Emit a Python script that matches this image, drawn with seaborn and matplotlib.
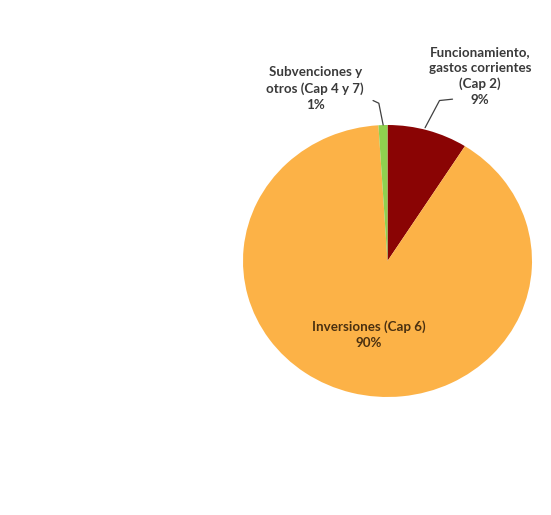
import matplotlib
matplotlib.use("Agg")
import matplotlib.pyplot as plt
import seaborn as sns

# data
categories = ["Funcionamiento,\ngastos corrientes\n(Cap 2)",
              "Inversiones (Cap 6)",
              "Subvenciones y\notros (Cap 4 y 7)"]
shares = [9, 90, 1]
slice_colors = ["#8A0404", "#FCB247", "#8FD14F"]

sns.set_theme(style="white")
plt.rcParams["font.family"] = ["Lato", "DejaVu Sans"]

fig = plt.figure(figsize=(5.51, 5.15), dpi=100)
# pie is slightly stretched in the reference: centre ~(387.5, 261) px, 289 x 272 px
cx, cy = 387.5 / 551, 1 - 261 / 515
w, h = 289 / 551, 272 / 515
ax = fig.add_axes([cx - w / 2, cy - h / 2, w, h])

wedges, _ = ax.pie(shares, colors=slice_colors, startangle=90, counterclock=False,
                   radius=1, wedgeprops=dict(linewidth=0))
ax.set_xlim(-1, 1)
ax.set_ylim(-1, 1)
ax.set_aspect("auto")
ax.axis("off")

txt = dict(fontsize=9.6, fontweight="bold", ha="center", va="center", color="#3a3a3a",
           linespacing=1.4)

# outside labels with leader lines (data units: x per 144.5 px, y per 136 px)
ax.text(0.64, 1.36, f"{categories[0]}\n{shares[0]}%", **txt)
ax.plot([0.45, 0.36, 0.26], [1.19, 1.18, 0.98], color="#404040", lw=0.9, clip_on=False)

ax.text(-0.5, 1.27, f"{categories[2]}\n{shares[2]}%", **txt)
ax.plot([-0.1, -0.06, -0.03], [1.18, 1.16, 1.0], color="#404040", lw=0.9, clip_on=False)

# inside label
ax.text(-0.13, -0.54, f"{categories[1]}\n{shares[1]}%", **{**txt, "color": "#4a3010"})

fig.savefig("out.png", dpi=100, facecolor="white")
